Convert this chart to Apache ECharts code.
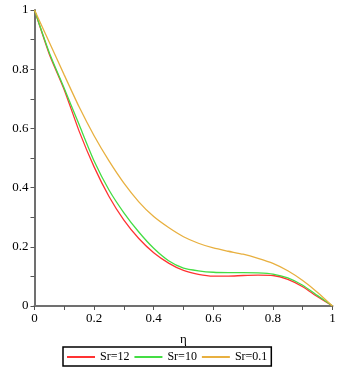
<!DOCTYPE html>
<html>
<head>
<meta charset="utf-8">
<script src="https://cdn.jsdelivr.net/npm/echarts@6/dist/echarts.min.js"></script>
<style>
  html, body { margin: 0; padding: 0; background: #fff; }
  #chart { width: 346px; height: 375px; }
</style>
</head>
<body>
<div id="chart"></div>
<script>
// eta values (x) shared by all curves
const eta = [0, 0.05, 0.1, 0.15, 0.2, 0.25, 0.3, 0.35, 0.4, 0.45, 0.5,
  0.55, 0.6, 0.65, 0.7, 0.75, 0.8, 0.85, 0.9, 0.95, 1];
const sr12 = [1, 0.85, 0.73, 0.59, 0.47, 0.37, 0.29, 0.228, 0.18, 0.145, 0.12,
  0.107, 0.101, 0.101, 0.103, 0.104, 0.103, 0.09, 0.065, 0.031, 0];
const sr10 = [1, 0.855, 0.735, 0.612, 0.49, 0.392, 0.315, 0.25, 0.195, 0.153, 0.128,
  0.119, 0.114, 0.113, 0.113, 0.112, 0.108, 0.095, 0.07, 0.035, 0];
const sr01 = [1, 0.89, 0.78, 0.672, 0.575, 0.49, 0.415, 0.352, 0.302, 0.265, 0.234,
  0.212, 0.196, 0.185, 0.175, 0.161, 0.144, 0.119, 0.086, 0.046, 0];
const seriesNames = ['Sr=12', 'Sr=10', 'Sr=0.1'];
const colors = ['#ff3333', '#44dd44', '#e8b040'];

const font = 'Liberation Serif';
const chart = echarts.init(document.getElementById('chart'));

function pairs(ys) {
  return eta.map((x, i) => [x, ys[i]]);
}

const axisCommon = {
  type: 'value',
  min: 0,
  max: 1,
  interval: 0.2,
  axisLine: { show: true, lineStyle: { color: '#707070', width: 2 } },
  axisTick: { show: true, length: 4, lineStyle: { color: '#555', width: 1 } },
  minorTick: { show: true, splitNumber: 2, length: 4, lineStyle: { color: '#555', width: 1 } },
  splitLine: { show: false },
  axisLabel: { color: '#000', fontFamily: font, fontSize: 13, margin: 6 }
};

const option = {
  animation: false,
  grid: { left: 34.5, right: 13.5, top: 10, bottom: 69, containLabel: false },
  xAxis: Object.assign({}, axisCommon, {
    name: 'η',
    nameLocation: 'middle',
    nameGap: 27,
    nameTextStyle: { color: '#000', fontFamily: font, fontSize: 13 }
  }),
  yAxis: Object.assign({}, axisCommon),
  legend: {
    left: 63,
    top: 347,
    itemGap: 5,
    itemWidth: 28,
    itemHeight: 2,
    icon: 'rect',
    borderColor: '#000',
    borderWidth: 1.5,
    padding: [4, 4, 3, 4],
    textStyle: { color: '#000', fontFamily: font, fontSize: 12 },
    data: seriesNames
  },
  series: [sr12, sr10, sr01].map((ys, i) => ({
    name: seriesNames[i],
    type: 'line',
    data: pairs(ys),
    smooth: 0.2,
    showSymbol: false,
    lineStyle: { color: colors[i], width: 1.3 },
    itemStyle: { color: colors[i] }
  }))
};

chart.setOption(option);
</script>
</body>
</html>
